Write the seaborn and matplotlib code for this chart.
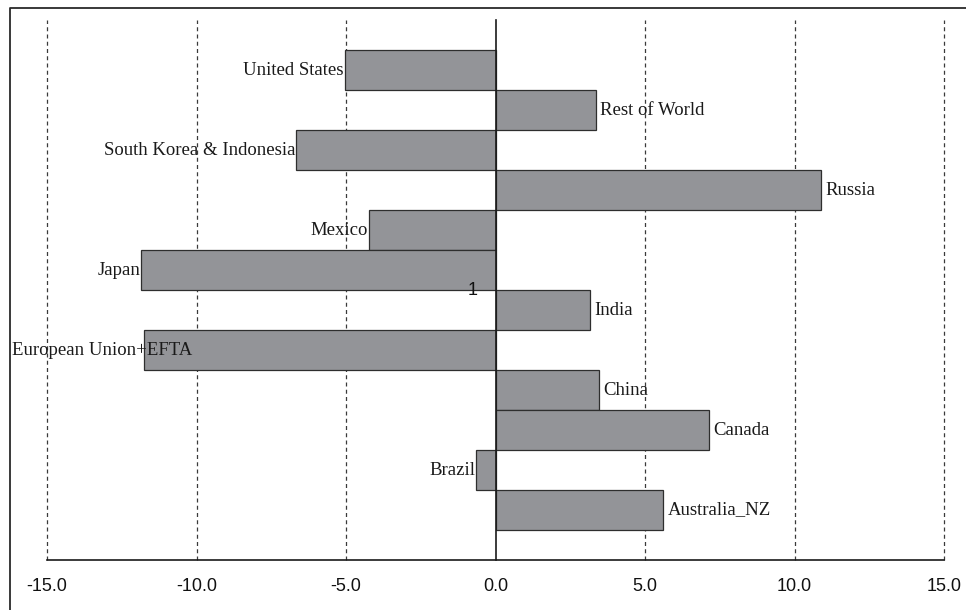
import matplotlib
matplotlib.use("Agg")
import matplotlib.pyplot as plt
from matplotlib.lines import Line2D
import seaborn as sns
import pandas as pd

regions = ["United States", "Rest of World", "South Korea & Indonesia", "Russia",
           "Mexico", "Japan", "India", "European Union+EFTA", "China", "Canada",
           "Brazil", "Australia_NZ"]
change = [-5.05, 3.36, -6.66, 10.88, -4.24, -11.84, 3.16, -11.76, 3.47, 7.13,
          -0.64, 5.60]
x_ticks = [-15, -10, -5, 0, 5, 10, 15]
axis_label = "1"

df = pd.DataFrame({"region": regions, "change": change})

sns.set_style("white")
plt.rcParams["font.family"] = ["Liberation Sans", "DejaVu Sans"]

DPI = 100
fig = plt.figure(figsize=(9.66, 6.10), dpi=DPI)
ax = fig.add_axes([47 / 966, 1 - 560 / 610, (944 - 47) / 966, 540 / 610])

sns.barplot(data=df, x="change", y="region", orient="h", width=1.0,
            color="#939498", saturation=1, edgecolor="#2e2e2e",
            linewidth=0.9, ax=ax, zorder=2)

ax.set_xlim(-15, 15)
ax.set_ylim(len(regions) - 0.5 + 0.75, -0.5 - 0.75)
ax.set_xlabel("")
ax.set_ylabel("")

# dashed vertical guides at the major x ticks
ax.set_xticks(x_ticks, labels=[f"{v:.1f}" for v in x_ticks])
for v in x_ticks:
    if v != 0:
        ax.axvline(v, color="#3a3a3a", lw=0.9, ls=(0, (3.2, 2.6)), zorder=1,
                   clip_on=False)

# spines: value axis at bottom, category axis crossing at zero
for side in ("top", "right"):
    ax.spines[side].set_visible(False)
ax.spines["left"].set_position(("data", 0))
ax.spines["left"].set_color("#1a1a1a")
ax.spines["left"].set_linewidth(1.2)
ax.spines["left"].set_zorder(3)
ax.spines["bottom"].set_color("#1a1a1a")
ax.spines["bottom"].set_linewidth(1.2)

ax.tick_params(axis="x", which="major", direction="out", length=4, width=1.0,
               color="#1a1a1a", pad=9, labelsize=13, labelcolor="#111111")
ylo, yhi = ax.get_ylim()
ax.set_yticks([yhi, ylo], labels=["", ""])
ax.tick_params(axis="y", which="major", direction="out", length=4.3, width=1.0,
               color="#1a1a1a")

# category axis label, drawn over the bars
ax.annotate(axis_label, xy=(0, (ylo + yhi) / 2), xytext=(-13, 0),
            textcoords="offset points", ha="right", va="center", fontsize=13,
            family=["Liberation Sans", "DejaVu Sans"], color="#111111", zorder=6)

# region names next to the end of each bar
labels = []
for i, (name, val) in enumerate(zip(regions, change)):
    if val >= 0:
        ann = ax.annotate(name, xy=(val, i), xytext=(3.2, 0),
                          textcoords="offset points", ha="left", va="center",
                          fontsize=13.5, family=["Liberation Serif", "DejaVu Serif"],
                          color="#1a1a1a", zorder=4)
    else:
        ann = ax.annotate(name, xy=(val, i), xytext=(-0.8, 0),
                          textcoords="offset points", ha="right", va="center",
                          fontsize=13.5, family=["Liberation Serif", "DejaVu Serif"],
                          color="#1a1a1a", zorder=4)
    labels.append(ann)

# chart area border (top and left edges)
frame_x, frame_y = 9.5, 7.5
W, H = 966, 610
fig.add_artist(Line2D([frame_x / W, frame_x / W, 1.0],
                      [0.0, 1 - frame_y / H, 1 - frame_y / H],
                      transform=fig.transFigure, color="#2a2a2a", lw=1.3))

# keep labels inside the chart area
fig.canvas.draw()
renderer = fig.canvas.get_renderer()
for ann in labels:
    bb = ann.get_window_extent(renderer)
    if bb.x0 < frame_x + 2:
        shift = (frame_x + 2.5 - bb.x0) * 72 / DPI
        dx, dy = ann.xyann
        ann.xyann = (dx + shift, dy)

fig.savefig("out.png", dpi=DPI)
